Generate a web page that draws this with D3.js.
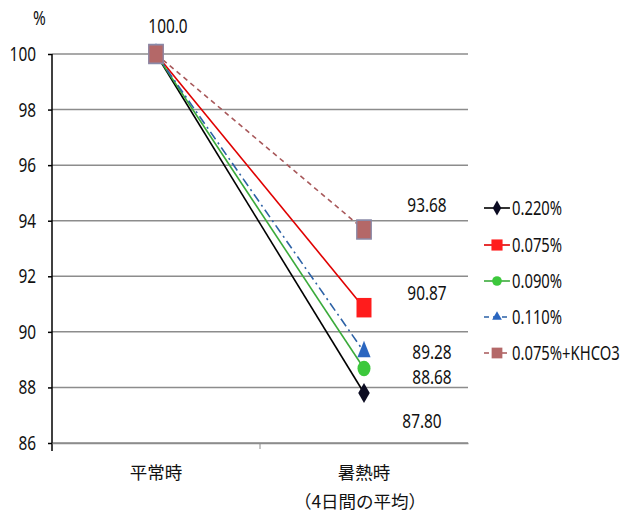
<!DOCTYPE html>
<html lang="ja">
<head>
<meta charset="UTF-8">
<script src="https://d3js.org/d3.v7.min.js"></script>
<style>
  body { margin: 0; background: #fff; }
  text { font-family: "Noto Sans", "Open Sans", sans-serif; font-size: 20px; fill: #111; }
  .jp { font-family: "Noto Sans CJK JP", sans-serif; font-size: 17.5px; }
</style>
</head>
<body>
<div id="chart"></div>
<script>
const categories = ["平常時", "暑熱時"];
const seriesNames = ["0.220%", "0.075%", "0.090%", "0.110%", "0.075%+KHCO3"];
const values = [
  [100, 87.80],
  [100, 90.87],
  [100, 88.68],
  [100, 89.28],
  [100, 93.68]
];
const yTicks = [86, 88, 90, 92, 94, 96, 98, 100];
const pointLabels = ["100.0", "93.68", "90.87", "89.28", "88.68", "87.80"];

// styles per series
const styles = [
  { line: "#000000", fill: "#0c0c22", dash: null, sym: d3.symbolDiamond, size: 115, sy: 1 },
  { line: "#e00000", fill: "#ff1c1c", dash: null, sym: d3.symbolSquare, size: 225, sy: 1.3 },
  { line: "#3aaa3a", fill: "#3cc83c", dash: null, sym: d3.symbolCircle, size: 133, sy: 1.2 },
  { line: "#2d62a6", fill: "#2a66c0", dash: "9,4,2,4", sym: d3.symbolTriangle, size: 75, sy: 1.45 },
  { line: "#a8585a", fill: "#b46868", dash: "5,4", sym: d3.symbolSquare, size: 210, sy: 1.3 }
];

const W = 625, H = 518;
const svg = d3.select("#chart").append("svg").attr("width", W).attr("height", H);

const mLeft = 52, mRight = 468, mTop = 54, mBottom = 443;
const x = d3.scaleBand().domain(categories).range([mLeft, mRight]);
const y = d3.scaleLinear().domain([86, 100]).range([mBottom, mTop]);
const cx = c => x(c) + x.bandwidth() / 2;

// condensed number text
function narrow(px, py, str, anchor, sx) {
  svg.append("text")
    .attr("transform", `translate(${px},${py}) scale(${sx || 0.77},1)`)
    .attr("text-anchor", anchor || "middle")
    .text(str);
}

// gridlines
svg.append("g").selectAll("line").data(yTicks).join("line")
  .attr("x1", mLeft).attr("x2", mRight)
  .attr("y1", d => y(d)).attr("y2", d => y(d))
  .attr("stroke", "#8c8c8c").attr("stroke-width", 1.5);

// y axis
const yAxis = svg.append("g").attr("transform", `translate(${mLeft},0)`)
  .call(d3.axisLeft(y).tickValues(yTicks).tickSize(4).tickFormat(""));
yAxis.select(".domain").remove();
yAxis.selectAll(".tick line").attr("stroke", "#000").attr("stroke-width", 1.5);
svg.append("line").attr("x1", mLeft).attr("x2", mLeft).attr("y1", mTop).attr("y2", mBottom + 8)
  .attr("stroke", "#000").attr("stroke-width", 1.5);
yTicks.forEach(t => narrow(36, y(t) + 7, String(t), "end"));

// x axis
const xAxis = svg.append("g").attr("transform", `translate(0,${mBottom})`)
  .call(d3.axisBottom(x).tickSize(0).tickFormat(""));
xAxis.select(".domain").attr("stroke", "#8c8c8c").attr("stroke-width", 1.5);
svg.append("line").attr("x1", x("暑熱時")).attr("x2", x("暑熱時"))
  .attr("y1", mBottom).attr("y2", mBottom + 6).attr("stroke", "#8c8c8c");

svg.append("text").attr("class", "jp").attr("x", cx("平常時")).attr("y", 479)
  .attr("text-anchor", "middle").text("平常時");
svg.append("text").attr("class", "jp").attr("x", cx("暑熱時")).attr("y", 479)
  .attr("text-anchor", "middle").text("暑熱時");
svg.append("text").attr("class", "jp").attr("x", cx("暑熱時") - 4).attr("y", 508)
  .attr("text-anchor", "middle").text("（4日間の平均）");

narrow(33, 25, "%", "start");

// lines
const line = d3.line().x((d, i) => cx(categories[i])).y(d => y(d));
values.forEach((vals, s) => {
  svg.append("path").attr("d", line(vals)).attr("fill", "none")
    .attr("stroke", styles[s].line).attr("stroke-width", 1.6)
    .attr("stroke-dasharray", styles[s].dash);
});

// markers
values.forEach((vals, s) => {
  vals.forEach((v, i) => {
    svg.append("path")
      .attr("d", d3.symbol().type(styles[s].sym).size(styles[s].size)())
      .attr("transform", `translate(${cx(categories[i])},${y(v)}) scale(1,${styles[s].sy})`)
      .attr("fill", styles[s].fill)
      .attr("stroke", s === 4 ? "#8a8aa8" : "none").attr("stroke-width", 1.3);
  });
});

// data labels
const labelPos = [
  [168, 33], [427, 212], [427, 300], [432, 359], [432, 384], [422, 428]
];
pointLabels.forEach((t, i) => narrow(labelPos[i][0], labelPos[i][1], t));

// legend
const legY = [208, 245, 281, 317, 353];
seriesNames.forEach((name, s) => {
  const g = svg.append("g").attr("transform", `translate(484,${legY[s]})`);
  g.append("line").attr("x1", 0).attr("x2", 26).attr("y1", 0).attr("y2", 0)
    .attr("stroke", styles[s].line).attr("stroke-width", 1.6)
    .attr("stroke-dasharray", s === 3 ? "5,4" : styles[s].dash);
  g.append("path")
    .attr("d", d3.symbol().type(styles[s].sym).size(styles[s].size * 0.55)())
    .attr("transform", "translate(13,0)")
    .attr("fill", styles[s].fill);
  narrow(484 + 28, legY[s] + 7, name, "start", 0.74);
});
</script>
</body>
</html>
